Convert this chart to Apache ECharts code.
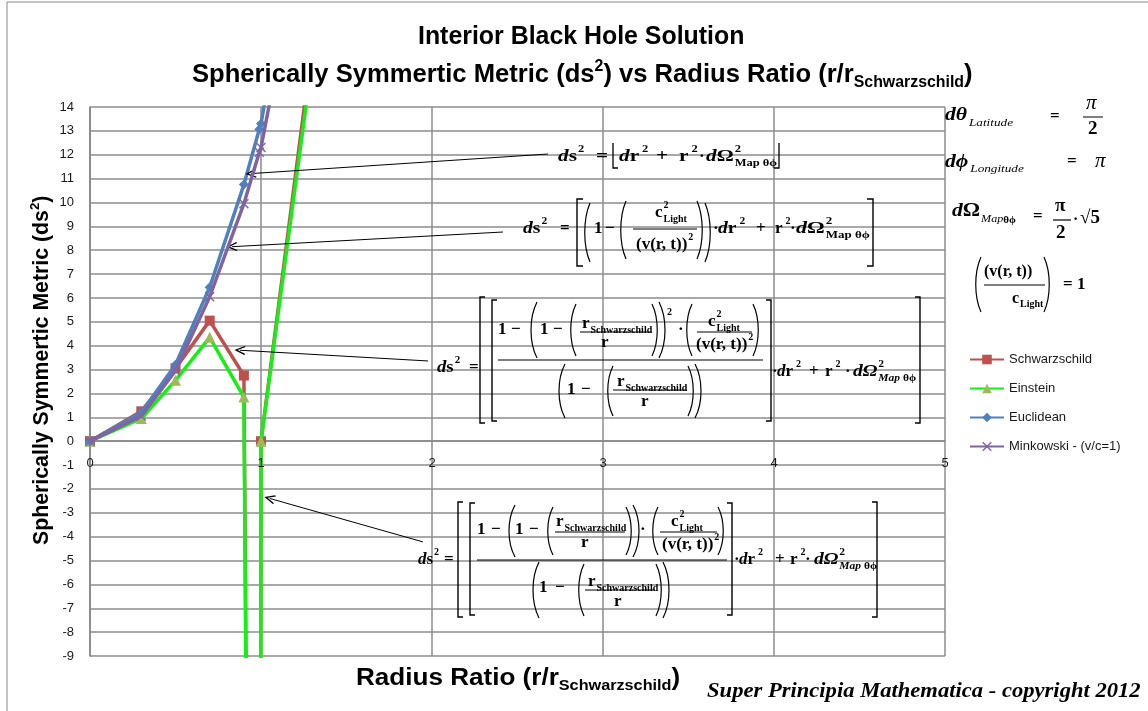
<!DOCTYPE html>
<html><head><meta charset="utf-8">
<script src="https://cdn.jsdelivr.net/npm/echarts@6/dist/echarts.min.js"></script>
<style>html,body{margin:0;padding:0;background:#fff}#c{width:1148px;height:711px}</style>
</head><body><div id="c"></div>
<script>
// ---------- DATA ----------
const radiusRatio   = [0, 0.3, 0.5, 0.7, 0.9, 0.99, 1.0, 2.0];
const schwarzschild = [0, 1.25, 3.05, 5.05, 2.75, -85, 0, 55.3];
const einstein      = [0, 0.95, 2.55, 4.35, 1.85, -86, 0, 53.3];
const euclidean     = [0, 1.2, 3.2, 6.45, 10.75, 13.07, 13.3, 53.4];
const minkowski     = [0, 1.05, 2.95, 6.05, 9.95, 12.1, 12.3, 49.4];
const seriesNames   = ['Schwarzschild', 'Einstein', 'Euclidean', 'Minkowski - (v/c=1)'];
const xAxisRange    = [0, 5];
const yAxisRange    = [-9, 14];
// annotation arrows: [start, tip] in data coordinates
const arrowAnnotations = [
  [[2.678, 12.03], [0.9415, 11.21]],
  [[2.415, 8.763], [0.830, 8.147]],
  [[1.977, 3.36], [0.877, 3.81]],
  [[1.947, -4.22], [1.051, -2.40]]
];

// ---------- HELPERS ----------
const SER = '"Liberation Serif","DejaVu Serif",serif';
const SANS = '"Liberation Sans","DejaVu Sans",sans-serif';
const NARROW = '"Liberation Sans Narrow","Liberation Sans",sans-serif';
const ctx = document.createElement('canvas').getContext('2d');
function mw(t, font){ ctx.font = font; return ctx.measureText(t).width; }
const G = [];
function tEl(x, y, t, font, sx){
  return {type:'text', x:x, y:y, scaleX:sx||1, silent:true, z:50,
    style:{text:t, x:0, y:0, font:font, fill:'#000', textAlign:'left', align:'left', textVerticalAlign:'middle', verticalAlign:'middle'}};
}
function T(x, y, t, font, sx){ sx = sx||1; G.push(tEl(x,y,t,font,sx)); return x + mw(t,font)*sx; }
const B  = s => 'bold ' + s + 'px ' + SER;
const BI = s => 'italic bold ' + s + 'px ' + SER;
const IT = s => 'italic ' + s + 'px ' + SER;
function sup(x,y,t,s,sx){ return T(x, y - s*0.42, t, B(Math.round(s*0.6)), sx); }
function sub(x,y,t,s,sx,it){ return T(x, y + s*0.38, t, (it?BI:B)(Math.round(s*0.58)), sx); }
function ds2(x,y,s,sx){ x=T(x,y,'d',BI(s),sx); x=T(x,y,'s',B(s),sx); return sup(x+1,y,'2',s,sx); }
function dr2(x,y,s,sx){ x=T(x,y,'d',BI(s),sx); x=T(x,y,'r',B(s),sx); return sup(x+3,y,'2',s,sx); }
function r2(x,y,s,sx){ x=T(x,y,'r',B(s),sx); return sup(x+3,y,'2',s,sx); }
function dOm(x,y,s,sx,ital){ x=T(x,y,'d',BI(s),sx); x=T(x,y,'Ω',(ital?BI:B)(s),sx);
  const a=sup(x+1,y,'2',s,sx); let b=sub(x+1,y,'Map ',s,sx,ital); b=sub(b,y,'θϕ',s,sx,false); return Math.max(a,b); }
function cL(x,y,s,sx){ x=T(x,y,'c',B(s),sx); sup(x+1,y,'2',s,sx); return sub(x+1,y,'Light',s,sx); }
function vrt(x,y,s,sx){ x=T(x,y,'(v(r, t))',B(s),sx); return sup(x+1,y,'2',s,sx); }
function rS(x,y,s,sx){ x=T(x,y,'r',B(s),sx); return sub(x+1,y,'Schwarzschild',s,sx); }
function L(x1,y1,x2,y2,w){ G.push({type:'line', silent:true, z:50, shape:{x1,y1,x2,y2}, style:{stroke:'#000', lineWidth:w||1}}); }
function PL(pts,w){ G.push({type:'polyline', silent:true, z:50, shape:{points:pts}, style:{stroke:'#000', fill:null, lineWidth:w||1.2}}); }
function par(x,t,b,side,w){ w=w||6; const h=b-t; let sh;
  if(side==='L') sh={x1:x+w,y1:t,cpx1:x-1,cpy1:t+h*0.28,cpx2:x-1,cpy2:b-h*0.28,x2:x+w,y2:b};
  else sh={x1:x,y1:t,cpx1:x+w+1,cpy1:t+h*0.28,cpx2:x+w+1,cpy2:b-h*0.28,x2:x,y2:b};
  G.push({type:'bezierCurve', silent:true, z:50, shape:sh, style:{stroke:'#000', fill:null, lineWidth:1.2}}); }
function brk(x,t,b,side,w){ w=w||5; const d = side==='L'? w : -w; PL([[x+d,t],[x,t],[x,b],[x+d,b]],1.4); }

function richRun(pieces, base, family, weight, target, style){
  const f = sz => (style?style+' ':'') + weight + ' ' + sz.toFixed(1) + 'px ' + family;
  let w = 0; pieces.forEach(p => { w += mw(p[0], f(p[1]==='n'?base:base*0.62)); });
  const k = target/w; const sz = base*Math.min(1.12, Math.max(0.88, k)); const sx = target/(w*sz/base);
  const kids = []; let x = 0;
  pieces.forEach(p => {
    const fs = p[1]==='n'?sz:sz*0.62; const dy = p[1]==='sup'? -sz*0.33 : (p[1]==='sub'? sz*0.3 : 0);
    const fnt = f(fs); const el = tEl(x, dy, p[0], fnt, sx); kids.push(el); x += mw(p[0], fnt)*sx;
  });
  return kids;
}
function group(x, y, kids, rot){ G.push({type:'group', x:x, y:y, rotation:rot||0, silent:true, z:50, children:kids}); }

// ---------- TEXT LAYOUT ----------
group(418, 37, richRun([['Interior Black Hole Solution','n']], 24, NARROW, 'bold', 327));
group(192, 75, richRun([['Spherically Symmertic Metric (ds','n'],['2','sup'],[') vs Radius Ratio (r/r','n'],['Schwarzschild','sub'],[')','n']], 24, NARROW, 'bold', 780));
group(42, 545, richRun([['Spherically Symmertic Metric (ds','n'],['2','sup'],[')','n']], 20, NARROW, 'bold', 350), Math.PI/2);
group(356, 678, richRun([['Radius Ratio (r/r','n'],['Schwarzschild','sub'],[')','n']], 22, NARROW, 'bold', 324));
group(707, 692, richRun([['Super Principia Mathematica - copyright 2012','n']], 18, SER, 'bold', 433, 'italic'));

// Eq 1
(function(){ const s=17, y=157, k=1.25;
  ds2(558,y,s,k); T(596,y,'=',B(s),k);
  PL([[613,143],[613,168],[618,168]],1.3);
  dr2(619,y,s,k); T(656,y,'+',B(s),k); r2(679,y,s,k); T(699,y,'·',B(s)); dOm(706,y,s,k,false);
  PL([[779,143],[779,168],[774,168]],1.3);
})();
// Eq 2
(function(){ const s=17, y=229;
  ds2(523,y,s,1.15); T(560,y,'=',B(s));
  brk(577,199,266,'L',6); par(584,203,262,'L',6);
  T(594,y,'1',B(s)); T(605,y,'−',B(s)); par(620,201,259,'L',6);
  cL(655,213,s); L(633,229,697,229,1); vrt(636,245,s);
  par(697,201,259,'R',6); par(705,203,262,'R',6);
  T(713,y,'·',B(s)); dr2(718,y,s,1.15); T(756,y,'+',B(s)); r2(775,y,s); T(790,y,'·',B(s)); dOm(796,y,s,1.3,false);
  brk(873,199,266,'R',6);
})();
// Eq 3
(function(){ const s=17, y=368, yt=372;
  ds2(437,y,s,1.1); T(469,y,'=',B(s));
  brk(480,297,423,'L',5); brk(492,300,421,'L',5);
  T(498,330,'1',B(s)); T(511,330,'−',B(s)); par(530,302,358,'L',7);
  T(540,330,'1',B(s)); T(553,330,'−',B(s)); par(570,304,356,'L',6);
  rS(582,324,s); L(580,332,651,332,1); T(601,343,'r',B(s));
  par(652,304,356,'R',6); par(659,302,358,'R',7); sup(667,320,'2',s);
  T(678,330,'·',B(s)); par(686,304,356,'L',6);
  cL(708,322,s); L(697,332,752,332,1); vrt(696,345,s);
  par(753,304,356,'R',6);
  L(498,360,763,360,1.2);
  par(558,364,418,'L',7); T(567,390,'1',B(s)); T(581,390,'−',B(s)); par(607,366,416,'L',6);
  rS(617,382,s); L(613,390,687,390,1); T(641,402,'r',B(s));
  par(688,366,416,'R',6); par(695,364,418,'R',7);
  brk(771,300,421,'R',5);
  T(772,yt,'·',B(s)); dr2(777,yt,s); T(809,yt,'+',B(s)); r2(825,yt,s); T(845,yt,'·',B(s)); dOm(853,yt,s,1.15,true);
  brk(920,297,423,'R',5);
})();
// Eq 4
(function(){ const s=17, y=560;
  ds2(418,y,s,1.0); T(444,y,'=',B(s));
  brk(458,502,617,'L',5); brk(470,503,615,'L',5);
  T(477,530,'1',B(s)); T(491,530,'−',B(s)); par(508,505,557,'L',7);
  T(515,530,'1',B(s)); T(529,530,'−',B(s)); par(547,507,555,'L',6);
  rS(556,522,s); L(555,532,625,532,1); T(581,543,'r',B(s));
  par(626,507,555,'R',6); par(633,505,557,'R',7);
  T(640,530,'·',B(s)); par(652,507,555,'L',6);
  cL(671,522,s); L(660,532,717,532,1); vrt(662,545,s);
  par(718,507,555,'R',6);
  L(477,560,727,560,1.2);
  par(532,562,618,'L',7); T(539,588,'1',B(s)); T(555,588,'−',B(s)); par(578,564,616,'L',6);
  rS(588,582,s); L(585,590,655,590,1); T(614,602,'r',B(s));
  par(656,564,616,'R',6); par(663,562,618,'R',7);
  brk(732,503,615,'R',5);
  T(734,y,'·',B(s)); dr2(739,y,s); T(775,y,'+',B(s)); r2(790,y,s); T(805,y,'·',B(s)); dOm(814,y,s,1.15,true);
  brk(877,502,617,'R',5);
})();
// Right panel
(function(){
  let x = T(945,115,'d',BI(18),1.2); x = T(x,115,'θ',BI(18),1.2); T(x+2,123,'Latitude',IT(11),1.2);
  T(1050,117,'=',B(17)); T(1086,103,'π',IT(21)); L(1083,117,1103,117,1); T(1088,129,'2',B(19));
  x = T(945,162,'d',BI(18),1.2); x = T(x,162,'ϕ',BI(18),1.2); T(x+2,169,'Longitude',IT(11),1.2);
  T(1067,162,'=',B(17)); T(1095,161,'π',IT(21));
  x = T(952,211,'d',BI(18),1.2); x = T(x,211,'Ω',B(18),1.2); x = T(x+1,219,'Map',IT(11),1.1); T(x,220,'θϕ',B(11));
  T(1033,217,'=',B(17)); T(1055,206,'π',B(19)); L(1053,220,1071,220,1.2); T(1056,233,'2',B(19));
  T(1073,220,'·',B(16)); T(1080,218,'√5',B(19));
  par(975,257,312,'L',6); T(984,272,'(v(r, t))',B(16)); L(984,285,1045,285,1);
  x = T(1012,299,'c',B(16)); T(x+1,304,'Light',B(10));
  par(1044,257,312,'R',6); T(1063,285,'= 1',B(17));
})();
// outer frame
G.push({type:'rect', silent:true, z:0, shape:{x:7, y:2, width:1170, height:740}, style:{stroke:'#898989', fill:null, lineWidth:1}});

// ---------- CHART ----------
const gridBox = {left:90, right:203, top:107, bottom:55};
const plotH = 711 - gridBox.top - gridBox.bottom;
// x axis crosses the value axis at y = 0
const xAxisOffset = -plotH * (0 - yAxisRange[0]) / (yAxisRange[1] - yAxisRange[0]);

const XPATH = 'path://M1,0L5,4L9,0L10,1L6,5L10,9L9,10L5,6L1,10L0,9L4,5L0,1Z';
const ARROW = 'path://M5,0L10,8.8L8.9,9.7L5,2.8L1.1,9.7L0,8.8Z';
const defs = [
  {data: schwarzschild, color:'#C0504D', line:'#C0504D', symbol:'rect', size:10},
  {data: einstein,      color:'#9BBB59', line:'#14F014', symbol:'triangle', size:11},
  {data: euclidean,     color:'#4F81BD', line:'#4F81BD', symbol:'diamond', size:10},
  {data: minkowski,     color:'#8064A2', line:'#8064A2', symbol:XPATH, size:10}
];
const series = defs.map((d, i) => ({
  type:'line', name: seriesNames[i], xAxisIndex:0,
  data: radiusRatio.map((x, j) => [x, d.data[j]]),
  symbol: d.symbol, symbolSize: d.size, showSymbol:true,
  lineStyle:{color:d.line, width:3.5}, itemStyle:{color:d.color, borderWidth:0},
  clip:true, animation:false, emphasis:{disabled:true}, z: 2 + i
}));
series.push({
  type:'line', name:'arrows', data:[], silent:true, animation:false, z:10, xAxisIndex:0,
  markLine:{silent:true, animation:false, symbol:['none', ARROW], symbolSize:[9,11],
    label:{show:false}, emphasis:{disabled:true},
    lineStyle:{color:'#000', width:1, type:'solid'}, itemStyle:{color:'#000'},
    data: arrowAnnotations.map(a => [{coord:a[0]}, {coord:a[1]}])}
});

const xCommon = {type:'value', min:xAxisRange[0], max:xAxisRange[1], interval:1, position:'bottom', offset:xAxisOffset};
const chart = echarts.init(document.getElementById('c'), null, {renderer:'canvas'});
chart.setOption({
  animation:false,
  backgroundColor:'#fff',
  textStyle:{fontFamily:SANS},
  grid:Object.assign({containLabel:false, outerBoundsMode:'none'}, gridBox),
  legend:{data:seriesNames, orient:'vertical', left:969, top:353, padding:0, itemWidth:34, itemHeight:12, itemGap:16,
    textStyle:{fontSize:13, color:'#1a1a1a', fontFamily:SANS}, selectedMode:false},
  xAxis:[
    Object.assign({}, xCommon, {
      axisLine:{show:true, onZero:false, lineStyle:{color:'#868686', width:1.5}},
      axisTick:{show:false}, axisLabel:{show:false},
      splitLine:{show:true, lineStyle:{color:'#8c8c8c', width:1.5}}}),
    Object.assign({}, xCommon, {
      z:20,
      axisLine:{show:false, onZero:false}, axisTick:{show:false}, splitLine:{show:false},
      axisLabel:{margin:16, fontSize:13, color:'#1a1a1a', fontFamily:SANS}})
  ],
  yAxis:{type:'value', min:yAxisRange[0], max:yAxisRange[1], interval:1,
    axisLine:{show:true, onZero:false, lineStyle:{color:'#868686', width:1.5}},
    axisTick:{show:false},
    axisLabel:{margin:16, fontSize:13, color:'#1a1a1a', fontFamily:SANS},
    splitLine:{show:true, lineStyle:{color:'#8c8c8c', width:1.5}}},
  graphic:{elements:G},
  series: series
});
</script></body></html>
